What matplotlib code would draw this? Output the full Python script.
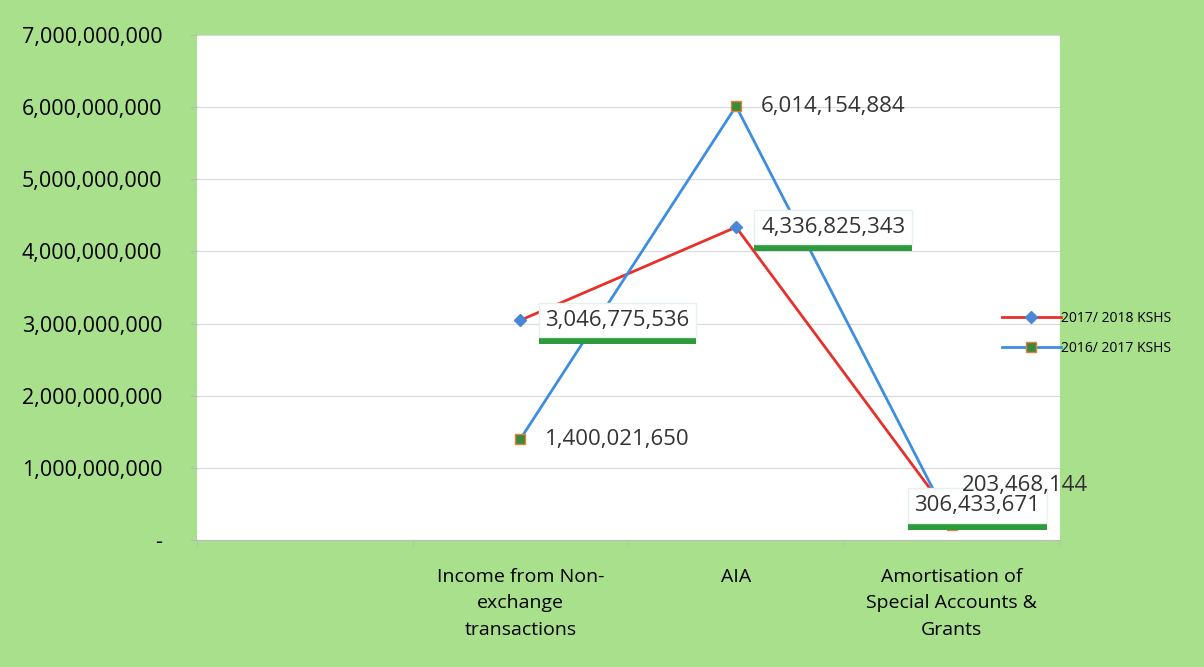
import numpy as np
import matplotlib.pyplot as plt
import matplotlib.patheffects as pe
from matplotlib.ticker import FuncFormatter

categories = ["", "Income from Non-\nexchange\ntransactions", "AIA",
              "Amortisation of\nSpecial Accounts &\nGrants"]
fy2018 = [np.nan, 3046775536, 4336825343, 306433671]
fy2017 = [np.nan, 1400021650, 6014154884, 203468144]
series_names = ["2017/ 2018 KSHS", "2016/ 2017 KSHS"]

plt.rcParams['font.family'] = ['Open Sans', 'DejaVu Sans']

bg = '#a9e08c'
fig = plt.figure(figsize=(12.04, 6.67), dpi=100, facecolor=bg)
ax = fig.add_axes([0.1636, 0.1904, 0.7164, 0.7571])
ax.set_facecolor('white')

x = np.arange(len(categories))
ax.plot(x, fy2018, color='#e8302a', lw=2, marker='D', ms=6,
        mfc='#4a86d8', mec='#4a86d8', label=series_names[0], zorder=3)
ax.plot(x, fy2017, color='#3d8ee0', lw=2, marker='s', ms=7,
        mfc='#3a8a3a', mec='#e0803a', label=series_names[1], zorder=3)

ax.set_xlim(-0.5, len(categories) - 0.5)
ax.set_ylim(0, 7e9)
ax.set_yticks(np.arange(0, 7.01e9, 1e9))
ax.yaxis.set_major_formatter(FuncFormatter(lambda v, p: "-" if v == 0 else f"{v:,.0f}"))
ax.set_xticks(x)
ax.set_xticklabels(categories, fontsize=14, linespacing=1.6)
ax.set_xticks(np.arange(-0.5, len(categories), 1), minor=True)
ax.tick_params(axis='x', which='major', length=0, pad=20)
ax.tick_params(axis='x', which='minor', length=5, color='#bbbbbb')
ax.tick_params(axis='y', length=5, color='#bbbbbb', labelsize=15.5, pad=20)
ax.grid(axis='y', color='#d8d8e0', lw=0.8)
ax.set_axisbelow(True)
for s in ['top', 'right', 'left']:
    ax.spines[s].set_visible(False)
ax.spines['bottom'].set_color('#bbbbbb')


def label(xv, yv, dx, dy, boxed):
    txt = f"{yv:,.0f}"
    kw = dict(textcoords='offset points', fontsize=16, va='center', ha='left',
              color='#333333', zorder=5)
    if boxed:
        kw['bbox'] = dict(boxstyle='square,pad=0.3', fc='white', ec='#e4f2ea')
    t = ax.annotate(txt, (xv, yv), xytext=(dx, dy), **kw)
    if boxed:
        # green shadow under the white box
        t.get_bbox_patch().set_path_effects([
            pe.SimplePatchShadow(offset=(0, -5), shadow_rgbFace='#2e9a3e', alpha=1),
            pe.Normal()])


offsets_2018 = [None, (18, 0), (18, 0), (-27, 9)]
offsets_2017 = [None, (18, 0), (18, 0), (7, 29)]
for i in range(1, len(categories)):
    label(x[i], fy2018[i], *offsets_2018[i], boxed=True)
    label(x[i], fy2017[i], *offsets_2017[i], boxed=False)

fig.legend(loc='center left', bbox_to_anchor=(0.822, 0.5), frameon=False,
           fontsize=10, handlelength=4.2, labelspacing=1.1, handletextpad=0.0)

fig.savefig('out.png', dpi=100, facecolor=bg)
